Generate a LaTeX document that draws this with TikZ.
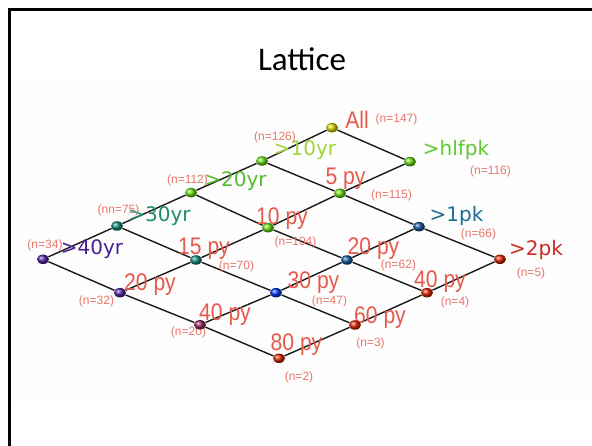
\documentclass[tikz,border=0pt]{standalone}
\usepackage{fontspec}
\setmainfont{Liberation Sans}
\newfontfamily\titlefont{Carlito}
\newfontfamily\axfont{DejaVu Sans}
\usetikzlibrary{backgrounds,shapes.geometric}
\definecolor{salmon}{HTML}{E65A4C}
\definecolor{salmonlt}{HTML}{E8776B}
\definecolor{cYel}{HTML}{D8D800}
\definecolor{cLime}{HTML}{66DD11}
\definecolor{cTeal}{HTML}{118877}
\definecolor{cPur}{HTML}{5522AA}
\definecolor{cSea}{HTML}{115599}
\definecolor{cBlue}{HTML}{0033EE}
\definecolor{cMag}{HTML}{992255}
\definecolor{cRed}{HTML}{DD2200}
\definecolor{tTen}{HTML}{A2D43A}
\definecolor{tHlf}{HTML}{62C832}
\definecolor{tTwenty}{HTML}{52BE2E}
\definecolor{tThirty}{HTML}{1F8C6E}
\definecolor{tOnePk}{HTML}{1F6E90}
\definecolor{tForty}{HTML}{4A2090}
\definecolor{tTwoPk}{HTML}{CC2A1E}
\newcommand{\narrowtxt}[1]{\scalebox{0.88}[1]{#1}}
\tikzset{
  ballnode/.style={ellipse, minimum width=12pt, minimum height=9.5pt, inner sep=0pt, ball color=#1},
  lnk/.style={draw=black!90, line width=1.4pt},
  pylabel/.style={text=salmon, font=\fontsize{24}{24}\selectfont, inner sep=0pt},
  cnt/.style={text=salmonlt, font=\fontsize{12}{12}\selectfont, inner sep=0pt},
  axlabel/.style={text=#1, font=\axfont\fontsize{20}{20}\selectfont, inner sep=0pt},
}
\begin{document}
\begin{tikzpicture}[x=1pt,y=-1pt]
\useasboundingbox (0,0) rectangle (592,446);
% title
\node[font=\titlefont\fontsize{33}{33}\selectfont, inner sep=0pt] (title) at (302,59) {Lattice};
% labels
\node[pylabel] (lAll) at (357,120) {\narrowtxt{All}};
\node[cnt] (cAll) at (396.5,119) {(n=147)};
\node[axlabel=tTen] (lTen) at (305,150) {>10yr};
\node[cnt] (cTen) at (275,137.5) {(n=126)};
\node[axlabel=tHlf] (lHlf) at (456,150) {>hlfpk};
\node[cnt] (cHlf) at (490.5,171) {(n=116)};
\node[pylabel] (lFive) at (345.5,178.5) {\narrowtxt{5 py}};
\node[cnt] (cFive) at (391.5,195.5) {(n=115)};
\node[axlabel=tTwenty] (lTwenty) at (235.5,181) {>20yr};
\node[cnt] (cTwenty) at (187.5,180) {(n=112)};
\node[axlabel=tThirty] (lThirty) at (159.5,216) {>30yr};
\node[cnt] (cThirty) at (118.5,210.5) {(nn=75)};
\node[pylabel] (lTenPy) at (282,218.5) {\narrowtxt{10 py}};
\node[cnt] (cTenPy) at (295.5,242.5) {(n=104)};
\node[axlabel=tOnePk] (lOnePk) at (456.5,216) {>1pk};
\node[cnt] (cOnePk) at (478.5,234.5) {(n=66)};
\node[axlabel=tForty] (lForty) at (92,249.5) {>40yr};
\node[cnt] (cForty) at (45,245) {(n=34)};
\node[pylabel] (lFifPy) at (204,248.5) {\narrowtxt{15 py}};
\node[cnt] (cFifPy) at (236.5,266.5) {(n=70)};
\node[pylabel] (lTwPyT) at (373.5,248.5) {\narrowtxt{20 py}};
\node[cnt] (cTwPyT) at (398.5,265) {(n=62)};
\node[axlabel=tTwoPk] (lTwoPk) at (536,250) {>2pk};
\node[cnt] (cTwoPk) at (531,273.5) {(n=5)};
\node[pylabel] (lTwPyL) at (150,285) {\narrowtxt{20 py}};
\node[cnt] (cTwPyL) at (96.5,301) {(n=32)};
\node[pylabel] (lThPy) at (313.5,282.5) {\narrowtxt{30 py}};
\node[cnt] (cThPy) at (329.5,301) {(n=47)};
\node[pylabel] (lFoPyR) at (440,281.5) {\narrowtxt{40 py}};
\node[cnt] (cFoPyR) at (455,302.5) {(n=4)};
\node[pylabel] (lFoPy) at (225,315) {\narrowtxt{40 py}};
\node[cnt] (cFoPy) at (188.5,332.5) {(n=20)};
\node[pylabel] (lSiPy) at (380,317.5) {\narrowtxt{60 py}};
\node[cnt] (cSiPy) at (370.5,343.5) {(n=3)};
\node[pylabel] (lEiPy) at (296.5,345) {\narrowtxt{80 py}};
\node[cnt] (cEiPy) at (299,377.5) {(n=2)};
% balls
\node[ballnode=cYel]  (n00) at (332,127.7) {};
\node[ballnode=cLime] (n01) at (410,161.7) {};
\node[ballnode=cLime] (n10) at (262,161) {};
\node[ballnode=cLime] (n11) at (340,193.3) {};
\node[ballnode=cSea]  (n12) at (419,226.7) {};
\node[ballnode=cRed]  (n13) at (500,259.3) {};
\node[ballnode=cLime] (n20) at (191,192.7) {};
\node[ballnode=cLime] (n21) at (268,227.7) {};
\node[ballnode=cSea]  (n22) at (347,260) {};
\node[ballnode=cRed]  (n23) at (427,292.7) {};
\node[ballnode=cTeal] (n30) at (117,226) {};
\node[ballnode=cTeal] (n31) at (196,260) {};
\node[ballnode=cBlue] (n32) at (276,292.7) {};
\node[ballnode=cRed]  (n33) at (355,325) {};
\node[ballnode=cPur]  (n40) at (43,259.3) {};
\node[ballnode=cPur]  (n41) at (120,292.7) {};
\node[ballnode=cMag]  (n42) at (200,324.8) {};
\node[ballnode=cRed]  (n43) at (279,358.3) {};
% background, frame and connectors
\begin{scope}[on background layer]
\fill[black!0.8] (12,80) rectangle (592,403);
\draw[line width=3pt] (9.5,446) -- (9.5,9.5) -- (592,9.5);
\draw[lnk] (n00) -- (n01);
\draw[lnk] (n00) -- (n10);
\draw[lnk] (n01) -- (n11);
\foreach \i in {1,2,3,4}{
  \draw[lnk] (n\i0) -- (n\i1) -- (n\i2) -- (n\i3);
}
\foreach \j in {0,1,2,3}{
  \draw[lnk] (n1\j) -- (n2\j) -- (n3\j) -- (n4\j);
}
\end{scope}
\end{tikzpicture}
\end{document}
